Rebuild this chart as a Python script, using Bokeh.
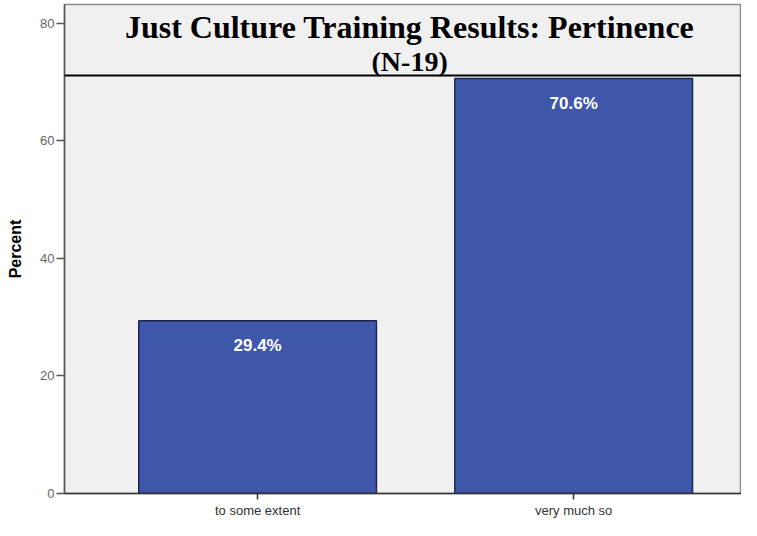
from bokeh.plotting import figure
from bokeh.models import Range1d, FixedTicker, Span, Label, ColumnDataSource
from bokeh.core.properties import value
from bokeh.embed import file_html
from bokeh.resources import INLINE

categories = ["to some extent", "very much so"]
percents = [29.4, 70.6]
labels = ["29.4%", "70.6%"]
y_ticks = [0, 20, 40, 60, 80]
title_line1 = "Just Culture Training Results: Pertinence"
title_line2 = "(N-19)"

xs = [i + 1 for i in range(len(categories))]
src = ColumnDataSource(dict(x=xs, top=percents, lab=labels))

p = figure(width=741, height=520, output_backend="svg", toolbar_location=None,
           x_range=Range1d(0.389, 2.531), y_range=Range1d(0, 83.2),
           min_border_left=64, min_border_right=0, min_border_top=4, min_border_bottom=20)

p.background_fill_color = "#f0f0f0"
p.border_fill_color = "white"
p.outline_line_color = "#8a8a8a"
p.outline_line_width = 1.5
p.xgrid.visible = False
p.ygrid.visible = False

p.vbar(x="x", top="top", width=0.752, bottom=0, source=src,
       fill_color="#3f57aa", line_color="#1c2550", line_width=1.5)

p.text(x="x", y="top", text="lab", source=src, y_offset=25,
       text_color="white", text_font_size="17px", text_font_style="bold",
       text_align="center", text_baseline="middle", text_font=value("Liberation Sans"))

# title inside plot area
p.add_layout(Span(location=71.12, dimension="width", line_color="black", line_width=2))
p.add_layout(Label(x=1.481, y=79.34, text=title_line1, text_font="Liberation Serif",
                   text_font_size="32px", text_font_style="bold", text_color="black",
                   text_align="center", text_baseline="middle"))
p.add_layout(Label(x=1.481, y=73.47, text=title_line2, text_font="Liberation Serif",
                   text_font_size="28px", text_font_style="bold", text_color="black",
                   text_align="center", text_baseline="middle"))

# x axis
p.xaxis.ticker = FixedTicker(ticks=xs)
p.xaxis.major_label_overrides = {x: c for x, c in zip(xs, categories)}
p.xaxis.axis_line_color = "#333333"
p.xaxis.axis_line_width = 1.5
p.xaxis.major_tick_line_color = "#333333"
p.xaxis.major_tick_line_width = 1.5
p.xaxis.major_tick_out = 6
p.xaxis.major_tick_in = 0
p.xaxis.minor_tick_line_color = None
p.xaxis.major_label_standoff = 3
p.xaxis.major_label_text_font = "Liberation Sans"
p.xaxis.major_label_text_font_size = "13px"
p.xaxis.major_label_text_color = "#333333"

# y axis
p.yaxis.ticker = FixedTicker(ticks=y_ticks)
p.yaxis.axis_label = "Percent"
p.yaxis.axis_label_text_font = "Liberation Sans"
p.yaxis.axis_label_text_font_size = "16px"
p.yaxis.axis_label_text_font_style = "bold"
p.yaxis.axis_label_text_color = "black"
p.yaxis.axis_label_standoff = 13
p.yaxis.axis_line_color = "#555555"
p.yaxis.axis_line_width = 1.5
p.yaxis.major_tick_line_color = "#555555"
p.yaxis.major_tick_line_width = 1.5
p.yaxis.major_tick_out = 8
p.yaxis.major_tick_in = 0
p.yaxis.minor_tick_line_color = None
p.yaxis.major_label_standoff = 2
p.yaxis.major_label_text_font = "Liberation Sans"
p.yaxis.major_label_text_font_size = "13px"
p.yaxis.major_label_text_color = "#666666"

open("out.html", "w").write(file_html(p, INLINE))
